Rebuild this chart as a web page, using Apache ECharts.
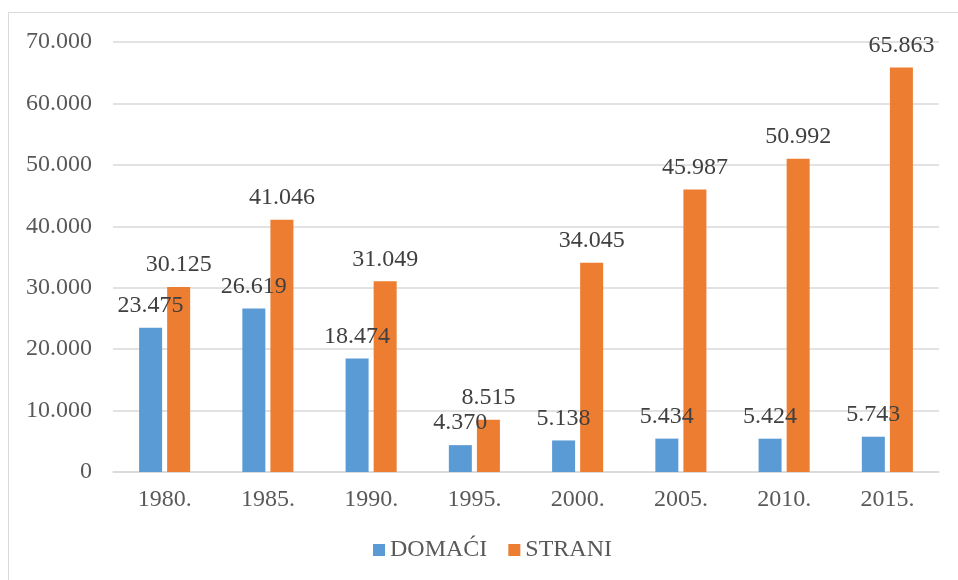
<!DOCTYPE html>
<html>
<head>
<meta charset="utf-8">
<script src="https://cdn.jsdelivr.net/npm/echarts@6/dist/echarts.min.js"></script>
<style>
  html, body { margin: 0; padding: 0; background: #fff; overflow: hidden; }
  #frame { position: absolute; left: 8px; top: 12px; width: 1000px; height: 700px;
    border-left: 1.5px solid #d9d9d9; border-top: 1.5px solid #d9d9d9; }
  #chart { position: absolute; left: 0; top: 0; width: 958px; height: 580px; }
</style>
</head>
<body>
<div id="frame"></div>
<div id="chart"></div>
<script>
// Turisti po godinama: domaći i strani
const years = ['1980.', '1985.', '1990.', '1995.', '2000.', '2005.', '2010.', '2015.'];
const domaci = [23475, 26619, 18474, 4370, 5138, 5434, 5424, 5743];
const strani = [30125, 41046, 31049, 8515, 34045, 45987, 50992, 65863];

const FONT = '"Liberation Serif", "Times New Roman", serif';
const fmt = v => String(v).replace(/\B(?=(\d{3})+(?!\d))/g, '.');

const chart = echarts.init(document.getElementById('chart'), null, { renderer: 'canvas' });

const label = {
  show: true, position: 'top', distance: 10,
  color: '#404040', fontFamily: FONT, fontSize: 24,
  formatter: p => fmt(p.value),
};

chart.setOption({
  animation: false,
  grid: { left: 113, right: 19, top: 42, bottom: 108 },
  legend: {
    left: 373, top: 538, padding: 0,
    itemWidth: 12, itemHeight: 12, itemGap: 21,
    icon: 'rect',
    textStyle: { color: '#595959', fontFamily: FONT, fontSize: 24 },
    data: ['DOMAĆI', 'STRANI'],
  },
  xAxis: {
    type: 'category', data: years,
    axisLine: { lineStyle: { color: '#d9d9d9', width: 1.5 } },
    axisTick: { show: false },
    axisLabel: { color: '#595959', fontFamily: FONT, fontSize: 24, margin: 16 },
  },
  yAxis: {
    type: 'value', min: 0, max: 70000, interval: 10000,
    axisLine: { show: false }, axisTick: { show: false },
    axisLabel: { color: '#595959', fontFamily: FONT, fontSize: 24, margin: 21, formatter: v => fmt(v) },
    splitLine: { lineStyle: { color: '#d9d9d9', width: 1.5 } },
  },
  series: [
    { name: 'DOMAĆI', type: 'bar', data: domaci, barWidth: 23, barGap: '22%',
      itemStyle: { color: '#5b9bd5' }, label },
    { name: 'STRANI', type: 'bar', data: strani, barWidth: 23,
      itemStyle: { color: '#ed7d31' }, label },
  ],
});
</script>
</body>
</html>
